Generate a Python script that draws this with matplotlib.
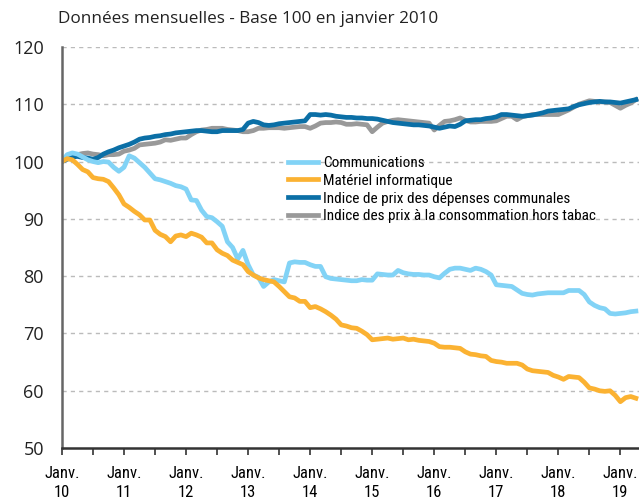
import numpy as np
import matplotlib.pyplot as plt
from matplotlib import font_manager

plt.rcParams['font.family'] = ['Open Sans', 'DejaVu Sans']

# month index 0 = janvier 2010
communications = [
    100.0, 101.2, 101.5, 101.3, 100.8, 100.3, 100.0, 99.8, 100.0, 99.9, 99.0, 98.3,
    99.0, 101.0, 100.6, 99.8, 99.0, 98.0, 97.0, 96.8, 96.5, 96.2, 95.8, 95.6,
    95.2, 93.3, 93.2, 91.5, 90.4, 90.2, 89.5, 88.7, 86.0, 85.0, 83.0, 84.5,
    82.0, 80.2, 79.8, 78.2, 79.0, 79.4, 79.2, 79.0, 82.3, 82.5, 82.4, 82.4,
    82.0, 81.7, 81.7, 79.9, 79.6, 79.5, 79.4, 79.3, 79.2, 79.2, 79.4, 79.3,
    79.3, 80.4, 80.3, 80.2, 80.2, 81.0, 80.6, 80.4, 80.3, 80.3, 80.2, 80.2,
    79.9, 79.7, 80.5, 81.2, 81.4, 81.4, 81.2, 81.0, 81.4, 81.2, 80.8, 80.2,
    78.5, 78.4, 78.3, 78.2, 77.6, 77.0, 76.8, 76.7, 76.9, 77.0, 77.1, 77.1,
    77.1, 77.1, 77.5, 77.5, 77.5, 76.8, 75.5, 74.9, 74.5, 74.3, 73.5, 73.4,
    73.5, 73.6, 73.8, 73.9,
]
materiel = [
    100.0, 100.5, 100.3, 99.5, 98.6, 98.2, 97.2, 97.0, 96.9, 96.5, 95.4, 94.2,
    92.6, 92.0, 91.3, 90.7, 89.8, 89.8, 88.0, 87.3, 86.9, 86.0, 87.0, 87.2,
    86.9, 87.5, 87.2, 86.8, 85.8, 85.8, 84.6, 84.0, 83.6, 82.8, 82.4, 82.0,
    80.8, 80.2, 79.7, 79.4, 79.2, 79.0, 78.2, 77.3, 76.4, 76.2, 75.6, 75.6,
    74.5, 74.7, 74.3, 73.8, 73.2, 72.5, 71.5, 71.3, 71.0, 70.9, 70.4, 69.8,
    68.9, 69.0, 69.1, 69.2, 69.0, 69.1, 69.2, 68.9, 69.0, 68.8, 68.7, 68.6,
    68.3, 67.7, 67.6, 67.6, 67.5, 67.4, 66.8, 66.4, 66.3, 66.1, 66.0, 65.3,
    65.1, 65.0, 64.8, 64.8, 64.8, 64.5, 63.8, 63.5, 63.4, 63.3, 63.2, 62.7,
    62.4, 62.0, 62.5, 62.4, 62.3, 61.5, 60.5, 60.3, 60.0, 59.9, 60.0, 59.2,
    58.1, 58.8, 59.0, 58.7,
]
depenses_communales = [
    100.0, 100.4, 100.8, 100.9, 100.7, 100.6, 100.4, 100.7, 101.3, 101.7, 102.0, 102.4,
    102.7, 103.0, 103.4, 103.9, 104.1, 104.2, 104.4, 104.5, 104.7, 104.8, 105.0, 105.1,
    105.2, 105.3, 105.4, 105.4, 105.3, 105.2, 105.2, 105.4, 105.4, 105.4, 105.4, 105.6,
    106.7, 107.0, 106.8, 106.4, 106.3, 106.4, 106.6, 106.7, 106.8, 106.9, 107.0, 107.1,
    108.2, 108.2, 108.1, 108.2, 108.1, 107.9, 107.8, 107.7, 107.7, 107.6, 107.6, 107.5,
    107.5, 107.4, 107.2, 107.0, 106.8, 106.7, 106.6, 106.5, 106.4, 106.4, 106.3, 106.2,
    106.0, 105.8, 106.0, 106.2, 106.1, 106.5, 107.1, 107.2, 107.3, 107.3, 107.5, 107.6,
    107.8, 108.2, 108.2, 108.1, 108.0, 107.9, 108.0, 108.1, 108.3, 108.5, 108.8, 108.9,
    109.0, 109.1, 109.2, 109.6, 109.9, 110.1, 110.3, 110.4, 110.5, 110.4, 110.4, 110.3,
    110.2, 110.4, 110.6, 110.8,
]
ipc_hors_tabac = [
    100.0, 100.6, 101.0, 101.2, 101.4, 101.5, 101.3, 101.2, 101.0, 101.2, 101.2, 101.3,
    101.8, 102.0, 102.3, 102.9, 103.0, 103.1, 103.2, 103.4, 103.8, 103.7, 103.9, 104.1,
    104.1, 104.7, 105.2, 105.5, 105.6, 105.8, 105.8, 105.8, 105.6, 105.5, 105.4, 105.2,
    105.2, 105.4, 105.8, 105.8, 105.9, 105.9, 105.9, 105.8, 105.9, 106.0, 106.1, 106.1,
    105.8, 106.2, 106.7, 106.8, 106.8, 106.9, 106.8, 106.5, 106.5, 106.6, 106.5, 106.4,
    105.2, 106.0, 106.7, 107.0, 107.2, 107.3, 107.2, 107.1, 107.0, 106.9, 106.8, 106.7,
    105.5, 106.3, 107.0, 107.1, 107.3, 107.6, 107.2, 106.9, 106.9, 107.0, 107.0, 107.0,
    107.1, 107.5, 107.9, 107.9, 107.3, 107.8, 108.0, 108.2, 108.2, 108.2, 108.2, 108.2,
    108.2, 108.6, 109.0, 109.5, 110.0, 110.3, 110.6, 110.5, 110.4, 110.4, 110.3, 109.8,
    109.3, 109.8, 110.2, 110.8,
]
years = ['10', '11', '12', '13', '14', '15', '16', '17', '18', '19']
labels = ['Communications', 'Matériel informatique',
          'Indice de prix des dépenses communales',
          'Indice des prix à la consommation hors tabac']

# narrow font for legend / x labels, if one is around
names = {f.name: f for f in font_manager.fontManager.ttflist}
narrow = None
for fam in ['Liberation Sans Narrow', 'Roboto Condensed', 'Open Sans Condensed', 'Noto Sans Condensed']:
    if fam in names:
        narrow = font_manager.FontProperties(family=fam)
        break
if narrow is None:
    cond = [f for f in font_manager.fontManager.ttflist
            if f.name == 'DejaVu Sans' and 'ondensed' in f.fname and 'Bold' not in f.fname
            and 'Oblique' not in f.fname]
    if cond:
        narrow = font_manager.FontProperties(fname=cond[0].fname)
    else:
        narrow = font_manager.FontProperties(family='Roboto')

months = np.arange(len(communications))

fig = plt.figure(figsize=(6.39, 4.99), dpi=100)
ax = fig.add_axes([0.097, 0.102, 0.903, 0.804])

lw = 3.4
l4, = ax.plot(months, ipc_hors_tabac, color='#999999', lw=lw)
l3, = ax.plot(months, depenses_communales, color='#0b6fa6', lw=lw)
l1, = ax.plot(months, communications, color='#82d3f6', lw=lw)
l2, = ax.plot(months, materiel, color='#fbb232', lw=lw)

ax.set_xlim(0, 111.6)
ax.set_ylim(50, 120)
ax.set_yticks(range(50, 121, 10))
for v in range(60, 121, 10):
    ax.axhline(v, color='#bbbbbb', lw=1, ls=(0, (3, 3)), zorder=0)

ax.set_xticks(np.arange(0, 112, 12))
ax.set_xticklabels(['Janv.\n' + y for y in years], linespacing=1.3)
for t in ax.get_xticklabels():
    t.set_fontproperties(narrow)
    t.set_fontsize(12)
ax.set_xticks(np.arange(6, 112, 12), minor=True)
ax.tick_params(axis='x', which='both', direction='out', length=5, width=1.2, color='#333333', pad=8)
ax.tick_params(axis='y', length=0, pad=13, labelsize=13, labelcolor='#222222')

for s in ['top', 'right']:
    ax.spines[s].set_visible(False)
ax.spines['left'].set_color('#666666')
ax.spines['left'].set_linewidth(1.8)
ax.spines['bottom'].set_color('#333333')
ax.spines['bottom'].set_linewidth(1.8)

leg_prop = narrow.copy()
leg_prop.set_size(11)
fig.legend([l1, l2, l3, l4], labels, loc='upper left', bbox_to_anchor=(0.429, 0.715),
           frameon=False, handlelength=2.0, handletextpad=0.3, labelspacing=0.25,
           prop=leg_prop)

fig.text(0.091, 0.962, 'Données mensuelles - Base 100 en janvier 2010', fontsize=12.3,
         va='center', ha='left', color='#222222')

plt.savefig('out.png')
